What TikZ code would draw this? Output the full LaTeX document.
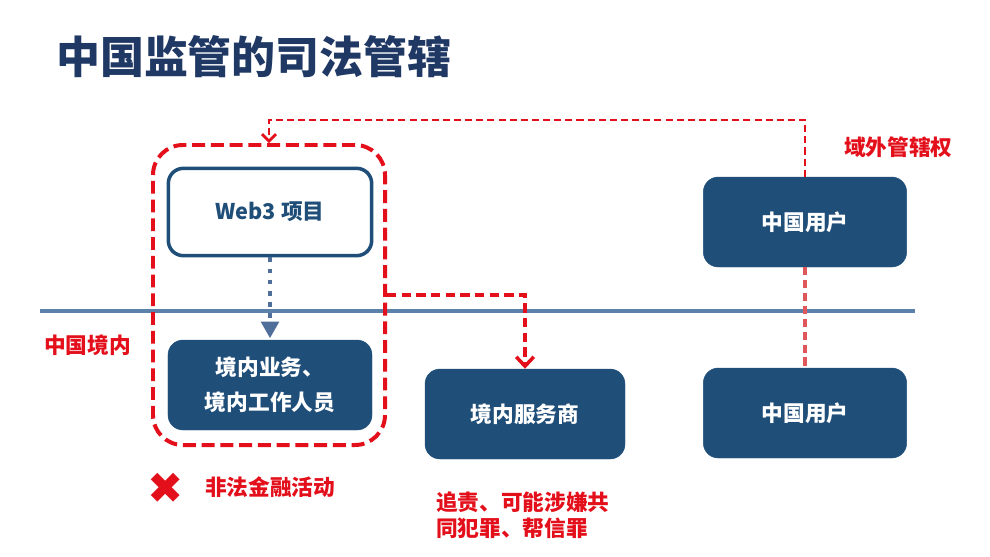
\documentclass[tikz,border=0pt]{standalone}
\usepackage{fontspec}
\setmainfont{Noto Sans CJK SC}
\newfontfamily\symfont{DejaVu Sans}
\usetikzlibrary{arrows.meta,calc}
\definecolor{navy}{HTML}{1F3864}
\definecolor{boxblue}{HTML}{1F4E79}
\definecolor{lineblue}{HTML}{5B80AA}
\definecolor{dotblue}{HTML}{4F6E9A}
\definecolor{alarm}{HTML}{E3101B}
\definecolor{palered}{HTML}{E0575B}
\tikzset{
  solidbox/.style={fill=boxblue, draw=boxblue, rounded corners=0.45cm, text=white,
    font=\fontsize{18.5}{30}\selectfont\bfseries, align=center},
  openbox/.style={fill=white, draw=boxblue, line width=3pt, rounded corners=0.45cm, text=boxblue,
    font=\fontsize{18.5}{24}\selectfont\bfseries},
  redframe/.style={draw=alarm, line width=3.4pt, dash pattern=on 11pt off 5pt, rounded corners=0.9cm},
  redlink/.style={draw=alarm, line width=3.2pt, dash pattern=on 8pt off 4.5pt,
    -{Straight Barb[length=8pt,width=15pt,line width=3pt]}},
  thinlink/.style={draw=alarm, line width=2.5pt, dash pattern=on 6pt off 3.5pt,
    -{Straight Barb[length=6pt,width=12pt,line width=2.3pt]}},
  redtext/.style={text=alarm, font=\fontsize{18.5}{21.5}\selectfont\bfseries}
}
\def\flowbox(#1,#2,#3,#4,#5){
  \node[solidbox, minimum width=#4, minimum height=2.7cm] (#1) at (#2,#3) {#5};
}
\begin{document}
\begin{tikzpicture}[x=0.03cm, y=-0.03cm]
\useasboundingbox (0,0) rectangle (990,556);
\node[anchor=west, text=navy, font=\fontsize{37.5}{40}\selectfont\bfseries] (title) at (52,57) {中国监管的司法管辖};
\draw[lineblue, line width=4pt] (40,311) -- (915,311);
\node[openbox, minimum width=6.1cm, minimum height=2.62cm] (web) at (270,212) {Web3 项目};
\flowbox(dom,270,385,6.12cm,境内业务、\\境内工作人员)
\flowbox(svc,525,414,6cm,境内服务商)
\flowbox(userA,805,222,6.1cm,中国用户)
\flowbox(userB,805,413,6.1cm,中国用户)
\node[redframe, minimum width=6.96cm, minimum height=9cm] (frame) at (269,295) {};
\coordinate (bend) at (805,120);
\draw[dotblue, line width=4pt, dash pattern=on 4pt off 5.5pt,
  -{Triangle[length=14pt,width=16pt,line width=0pt]}, shorten >=1.5pt] (web.south) -- (dom.north);
\draw[thinlink] (userA.north) -- (bend) -| (frame.north);
\draw[redlink] (frame.east) -| (svc.north);
\draw[palered, line width=2.8pt, dash pattern=on 7pt off 4pt] (userA.south) -- (userB.north);
\node[redtext, anchor=west] (abroad) at (840,147) {域外管辖权};
\node[redtext, anchor=west] (inland) at (40,345) {中国境内};
\node[text=alarm, font=\fontsize{37}{37}\selectfont\symfont] (cross) at (166,488) {✖};
\node[redtext, anchor=west] (illegal) at (201,487) {非法金融活动};
\node[redtext, anchor=north west, align=left] (liable) at (432,488) {追责、可能涉嫌共\\同犯罪、帮信罪};
\end{tikzpicture}
\end{document}
